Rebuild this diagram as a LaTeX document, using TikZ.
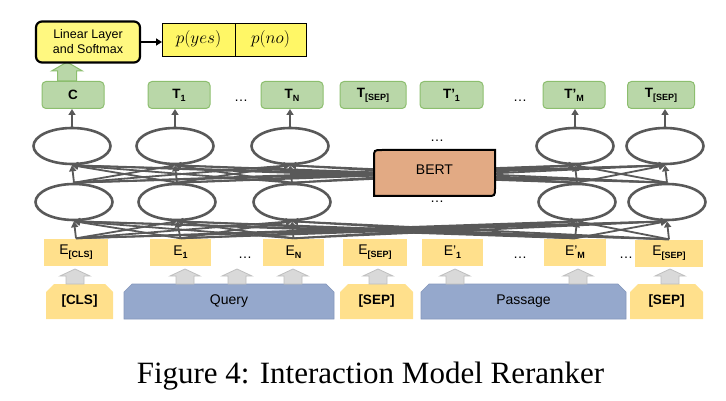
\documentclass[tikz,border=0pt]{standalone}
\usepackage{fontspec}
\setmainfont{Liberation Serif}
\setsansfont{Liberation Sans}
\usetikzlibrary{arrows.meta,positioning,shapes.geometric,shapes.misc}

\definecolor{linkgray}{HTML}{595959}
\definecolor{outfill}{RGB}{185,215,168}
\definecolor{outline}{RGB}{140,190,110}
\definecolor{embfill}{RGB}{255,224,140}
\definecolor{segfill}{RGB}{149,168,204}
\definecolor{segline}{RGB}{132,151,187}
\definecolor{bertfill}{RGB}{226,170,132}
\definecolor{arrfill}{HTML}{D9D9D9}
\definecolor{arrline}{HTML}{BFBFBF}

\newcommand{\subt}[1]{\raisebox{-0.4ex}{\fontsize{9}{9}\selectfont\bfseries #1}}

\begin{document}
\begin{tikzpicture}[x=1pt,y=-1pt,font=\sffamily,
            >={Triangle[width=7pt,length=6pt]},
            layer/.style={ellipse,draw=linkgray,line width=2.6pt,minimum width=77pt,minimum height=36pt,inner sep=0pt},
            link/.style={draw=linkgray,line width=1.8pt},
            outbox/.style={draw=outline,fill=outfill,line width=1pt,rounded corners=4pt,minimum height=27pt,inner sep=0pt,font=\sffamily\bfseries\fontsize{13.5}{13.5}\selectfont},
            embbox/.style={fill=embfill,minimum height=27pt,inner sep=0pt,font=\sffamily\fontsize{14}{14}\selectfont},
            tokbox/.style={chamfered rectangle,chamfered rectangle corners={north west,north east},chamfered rectangle xsep=4pt,chamfered rectangle ysep=4pt,fill=embfill,minimum height=35pt,inner sep=0pt,font=\sffamily\bfseries\fontsize{13.5}{13.5}\selectfont},
            segbox/.style={chamfered rectangle,chamfered rectangle corners={north west,north east},chamfered rectangle xsep=4pt,chamfered rectangle ysep=4pt,fill=segfill,draw=segline,line width=0.6pt,minimum height=35pt,inner sep=0pt,font=\sffamily\fontsize{14}{14}\selectfont},
            dots/.style={inner sep=0pt,font=\sffamily\fontsize{14}{14}\selectfont},
            pcell/.style={draw=black,line width=0.8pt,fill=yellow!60,minimum height=33pt,inner sep=0pt,outer sep=0pt,font=\fontsize{19}{19}\selectfont},
            grayup/.pic={\draw[fill=arrfill,draw=arrline,line width=0.8pt] (0,-7) -- (15,0) -- (9,0) -- (9,8) -- (-9,8) -- (-9,0) -- (-15,0) -- cycle;},
            greenup/.pic={\draw[fill=outfill,draw=outline,line width=1pt] (0,-9) -- (15.5,0) -- (9.5,0) -- (9.5,10) -- (-9.5,10) -- (-9.5,0) -- (-15.5,0) -- cycle;},
        ]
        \useasboundingbox (0,0) rectangle (726,401);

        % input tokens
        \node[tokbox,minimum width=67pt] (tcls) at (79.5,301.5) {[CLS]};
        \node[segbox,minimum width=210pt] (query) at (229,301.5) {Query};
        \node[tokbox,minimum width=73pt] (tsep) at (376.5,301.5) {[SEP]};
        \node[segbox,minimum width=205pt] (passage) at (523.5,301.5) {Passage};
        \node[tokbox,minimum width=73pt] (tsep2) at (666.5,301.5) {[SEP]};
        \foreach \x in {75,185,237,293,378,455,578,670}
            \pic at (\x,276) {grayup};

        % embeddings
        \node[embbox,minimum width=64pt] (ecls) at (76,252) {E\subt{[CLS]}};
        \node[embbox,minimum width=61pt] (e1) at (180.5,252) {E\subt{1}};
        \node[embbox,minimum width=61pt] (en) at (293.5,252) {E\subt{N}};
        \node[embbox,minimum width=64pt] (esep) at (375,252) {E\subt{[SEP]}};
        \node[embbox,minimum width=61pt] (ep1) at (452.5,252) {E’\subt{1}};
        \node[embbox,minimum width=62pt] (epm) at (575,252) {E’\subt{M}};
        \node[embbox,minimum width=68pt] (esep2) at (669,253) {E\subt{[SEP]}};
        \node[dots] (d1) at (245,258) {\dots};
        \node[dots] (d2) at (520,258) {\dots};
        \node[dots] (d3) at (626,258) {\dots};

        % transformer layers
        \foreach \x [count=\i] in {72,175,290,575,665}
            \node[layer] (up\i) at (\x,146) {};
        \foreach \x [count=\i] in {74,177,292,577,667}
            \node[layer] (lo\i) at (\x,202) {};
        \foreach \a in {1,...,5}
            \foreach \b in {1,...,5}
                \draw[link,->] (lo\a.north) -- (up\b.south);
        \foreach \e [count=\a] in {ecls,e1,en,epm,esep2}
            \foreach \b in {1,...,5}
                \draw[link,->] (\e.north) -- (lo\b.south);
        \draw[line width=2pt,fill=bertfill] (374,158) .. controls (374,150) .. (382,150) -- (495,150) -- (495,188) .. controls (495,196) .. (487,196) -- (374,196) -- cycle;
        \node[font=\sffamily\fontsize{14}{14}\selectfont] (bert) at (434.5,170) {BERT};
        \node[dots] (d4) at (437,141) {\dots};
        \node[dots] (d5) at (437,202) {\dots};

        % outputs
        \node[outbox,minimum width=62pt] (outc) at (73,95) {C};
        \node[outbox,minimum width=62pt] (out1) at (179,95) {T\subt{1}};
        \node[outbox,minimum width=62pt] (outn) at (292,95) {T\subt{N}};
        \node[outbox,minimum width=66pt] (outsep) at (373,95) {T\subt{[SEP]}};
        \node[outbox,minimum width=63pt] (outp1) at (451.5,95) {T’\subt{1}};
        \node[outbox,minimum width=62pt] (outpm) at (574,95) {T’\subt{M}};
        \node[outbox,minimum width=67pt] (outsep2) at (661,95) {T\subt{[SEP]}};
        \node[dots] (d6) at (241,101) {\dots};
        \node[dots] (d7) at (520,101) {\dots};
        \foreach \u/\o in {up1/outc,up2/out1,up3/outn,up4/outpm,up5/outsep2}
            \draw[link,->] (\u.north) -- (\u.north |- \o.south);

        % classifier
        \pic at (67,71) {greenup};
        \node[draw=black,line width=2.2pt,fill=yellow!50,rounded corners=6pt,minimum width=104pt,minimum height=41pt,align=center,
            font=\sffamily\fontsize{12.5}{15}\selectfont] (linear) at (88,42) {Linear Layer\\and Softmax};
        \node[pcell,minimum width=73pt] (pyes) at (198.5,39.5) {$p(yes)$};
        \node[pcell,minimum width=71pt,right=0pt of pyes] (pno) {$p(no)$};
        \draw[->,line width=1.6pt] (linear.east) -- (pyes.west |- linear.east);

        \node[anchor=base,font=\rmfamily\fontsize{31}{31}\selectfont] (caption) at (370.5,383) {Figure 4: Interaction Model Reranker};
    \end{tikzpicture}
\end{document}
